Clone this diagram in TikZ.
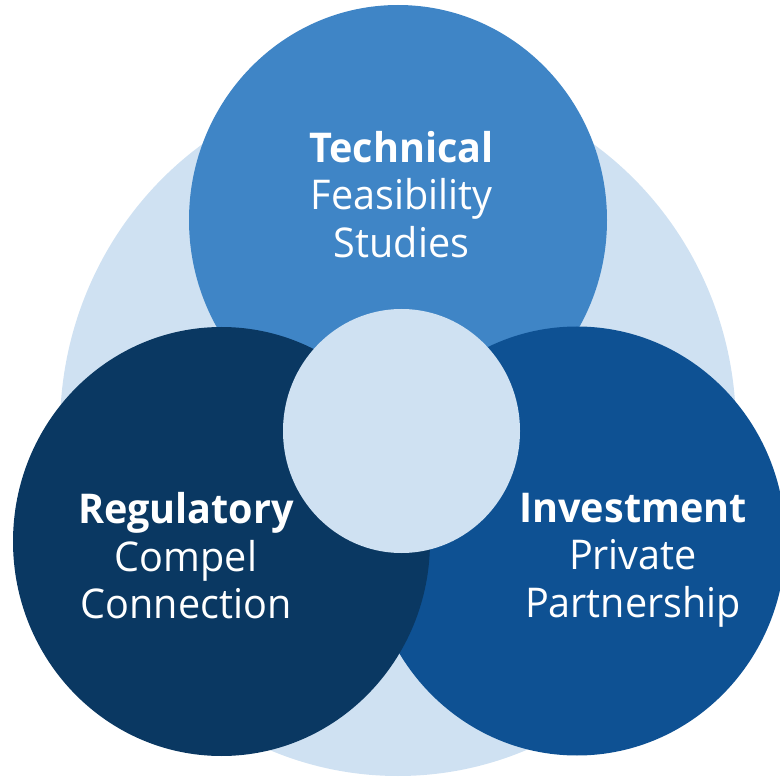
\documentclass[tikz,border=0pt]{standalone}
\usepackage{fontspec}
\setmainfont{Open Sans}[FakeStretch=0.965]
\definecolor{paleblue}{RGB}{207,225,242}
\definecolor{midblue}{RGB}{63,133,198}
\definecolor{darkblue}{RGB}{10,56,98}
\definecolor{deepblue}{RGB}{14,81,147}
\tikzset{
  title/.style={text=white, anchor=base, inner sep=0pt, font=\fontsize{41}{48}\selectfont\bfseries},
  sub/.style={text=white, anchor=base, inner sep=0pt, font=\fontsize{41}{48}\selectfont}
}
\begin{document}
\begin{tikzpicture}[x=1pt,y=-1pt]
\useasboundingbox (0,0) rectangle (780,778);
\clip (0,0) rectangle (780,778);
% background circle
\fill[paleblue] (398,428) ellipse [x radius=338pt, y radius=348pt];
% top circle
\fill[midblue] (398,220) ellipse [x radius=209pt, y radius=215pt];
% right circle
\fill[deepblue] (577,541) ellipse [x radius=208.5pt, y radius=214.5pt];
% left circle
\fill[darkblue] (221.5,541.5) ellipse [x radius=208.5pt, y radius=214.5pt];
% centre circle
\fill[paleblue] (401.5,431) ellipse [x radius=118.5pt, y radius=122pt];
% texts
\node[title] (t1) at (401.5,163) {Technical};
\node[sub]   (t2) at (401.5,210) {Feasibility};
\node[sub]   (t3) at (401.5,258) {Studies};
\node[title] (l1) at (186,523) {Regulatory};
\node[sub]   (l2) at (186,571) {Compel};
\node[sub]   (l3) at (186,618) {Connection};
\node[title] (r1) at (633,522) {Investment};
\node[sub]   (r2) at (633,569) {Private};
\node[sub]   (r3) at (633,617) {Partnership};
\end{tikzpicture}
\end{document}
